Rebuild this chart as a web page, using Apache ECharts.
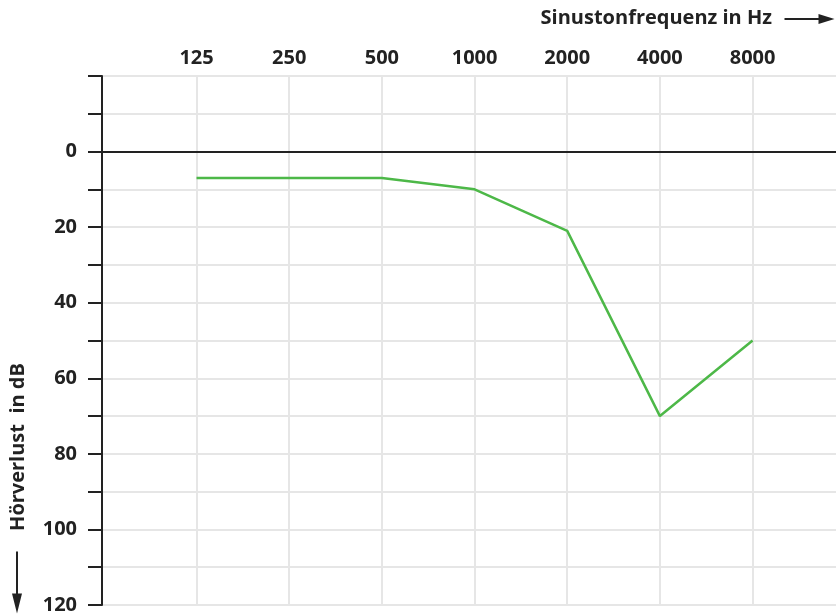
<!DOCTYPE html>
<html>
<head>
<meta charset="utf-8">
<script src="https://cdn.jsdelivr.net/npm/echarts@6/dist/echarts.min.js"></script>
<style>
  html, body { margin: 0; padding: 0; background: #fff; }
  #chart { width: 836px; height: 616px; }
</style>
</head>
<body>
<div id="chart"></div>
<script>
// Audiogram: hearing loss per test-tone frequency
const frequencies = ['125', '250', '500', '1000', '2000', '4000', '8000'];
const hearingLoss = [7, 7, 7, 10, 21, 70, 50];
const dbTicks = [0, 20, 40, 60, 80, 100, 120];

const FONT = '"Open Sans", "Noto Sans", sans-serif';
const TEXT = '#222';

const chart = echarts.init(document.getElementById('chart'), null, { renderer: 'canvas' });

chart.setOption({
  animation: false,
  grid: { left: 102, right: 0, top: 76, bottom: 11, containLabel: false },
  xAxis: {
    type: 'value',
    position: 'top',
    min: -1.02,
    max: 6.9,
    interval: 1,
    axisLine: { show: false },
    axisTick: { show: false },
    axisLabel: {
      margin: 8,
      fontFamily: FONT, fontWeight: 'bold', fontSize: 20, color: TEXT,
      formatter: v => {
        const i = Math.round(v);
        return (Math.abs(v - i) < 1e-6 && i >= 0 && i < frequencies.length) ? frequencies[i] : '';
      },
      customValues: frequencies.map((_, i) => i)
    },
    axisPointer: { show: false },
    splitLine: { show: false }
  },
  yAxis: {
    type: 'value',
    inverse: true,
    min: -20,
    max: 120,
    interval: 10,
    axisLine: { show: true, onZero: false, lineStyle: { color: TEXT, width: 2 } },
    axisTick: { show: true, length: 14, lineStyle: { color: TEXT, width: 2 } },
    axisLabel: {
      margin: 25,
      fontFamily: FONT, fontWeight: 'bold', fontSize: 20, color: TEXT,
      formatter: v => dbTicks.indexOf(v) >= 0 ? String(v) : ''
    },
    splitLine: { show: true, lineStyle: { color: '#e6e6e6', width: 2 } }
  },
  series: [
    {
      // vertical frequency grid lines
      type: 'line',
      data: [],
      silent: true,
      markLine: {
        silent: true,
        symbol: 'none',
        label: { show: false },
        lineStyle: { color: '#e6e6e6', width: 2, type: 'solid' },
        data: frequencies.map((_, i) => ({ xAxis: i }))
      }
    },
    {
      type: 'line',
      data: hearingLoss.map((v, i) => [i, v]),
      symbol: 'none',
      lineStyle: { color: '#4db848', width: 2.5 },
      z: 5,
      markLine: {
        silent: true,
        symbol: 'none',
        label: { show: false },
        lineStyle: { color: TEXT, width: 2, type: 'solid' },
        data: [{ yAxis: 0 }]
      }
    }
  ],
  graphic: [
    {
      type: 'text',
      right: 64, top: 8,
      style: {
        text: 'Sinustonfrequenz in Hz',
        font: 'bold 20px ' + FONT,
        fill: TEXT
      }
    },
    {
      type: 'group',
      left: 782, top: 14,
      children: [
        { type: 'line', shape: { x1: 0, y1: 6, x2: 36, y2: 6 }, style: { stroke: TEXT, lineWidth: 2 } },
        { type: 'polygon', shape: { points: [[34, 1], [50, 6], [34, 11]] }, style: { fill: TEXT } }
      ]
    },
    {
      type: 'text',
      x: 8, y: 447,
      rotation: Math.PI / 2,
      style: {
        text: 'Hörverlust  in dB',
        font: 'bold 20px ' + FONT,
        fill: TEXT,
        align: 'center',
        verticalAlign: 'top'
      }
    },
    {
      type: 'group',
      left: 12, top: 549,
      children: [
        { type: 'line', shape: { x1: 6, y1: 0, x2: 6, y2: 44 }, style: { stroke: TEXT, lineWidth: 2 } },
        { type: 'polygon', shape: { points: [[1, 42], [6, 62], [11, 42]] }, style: { fill: TEXT } }
      ]
    }
  ]
});
</script>
</body>
</html>
